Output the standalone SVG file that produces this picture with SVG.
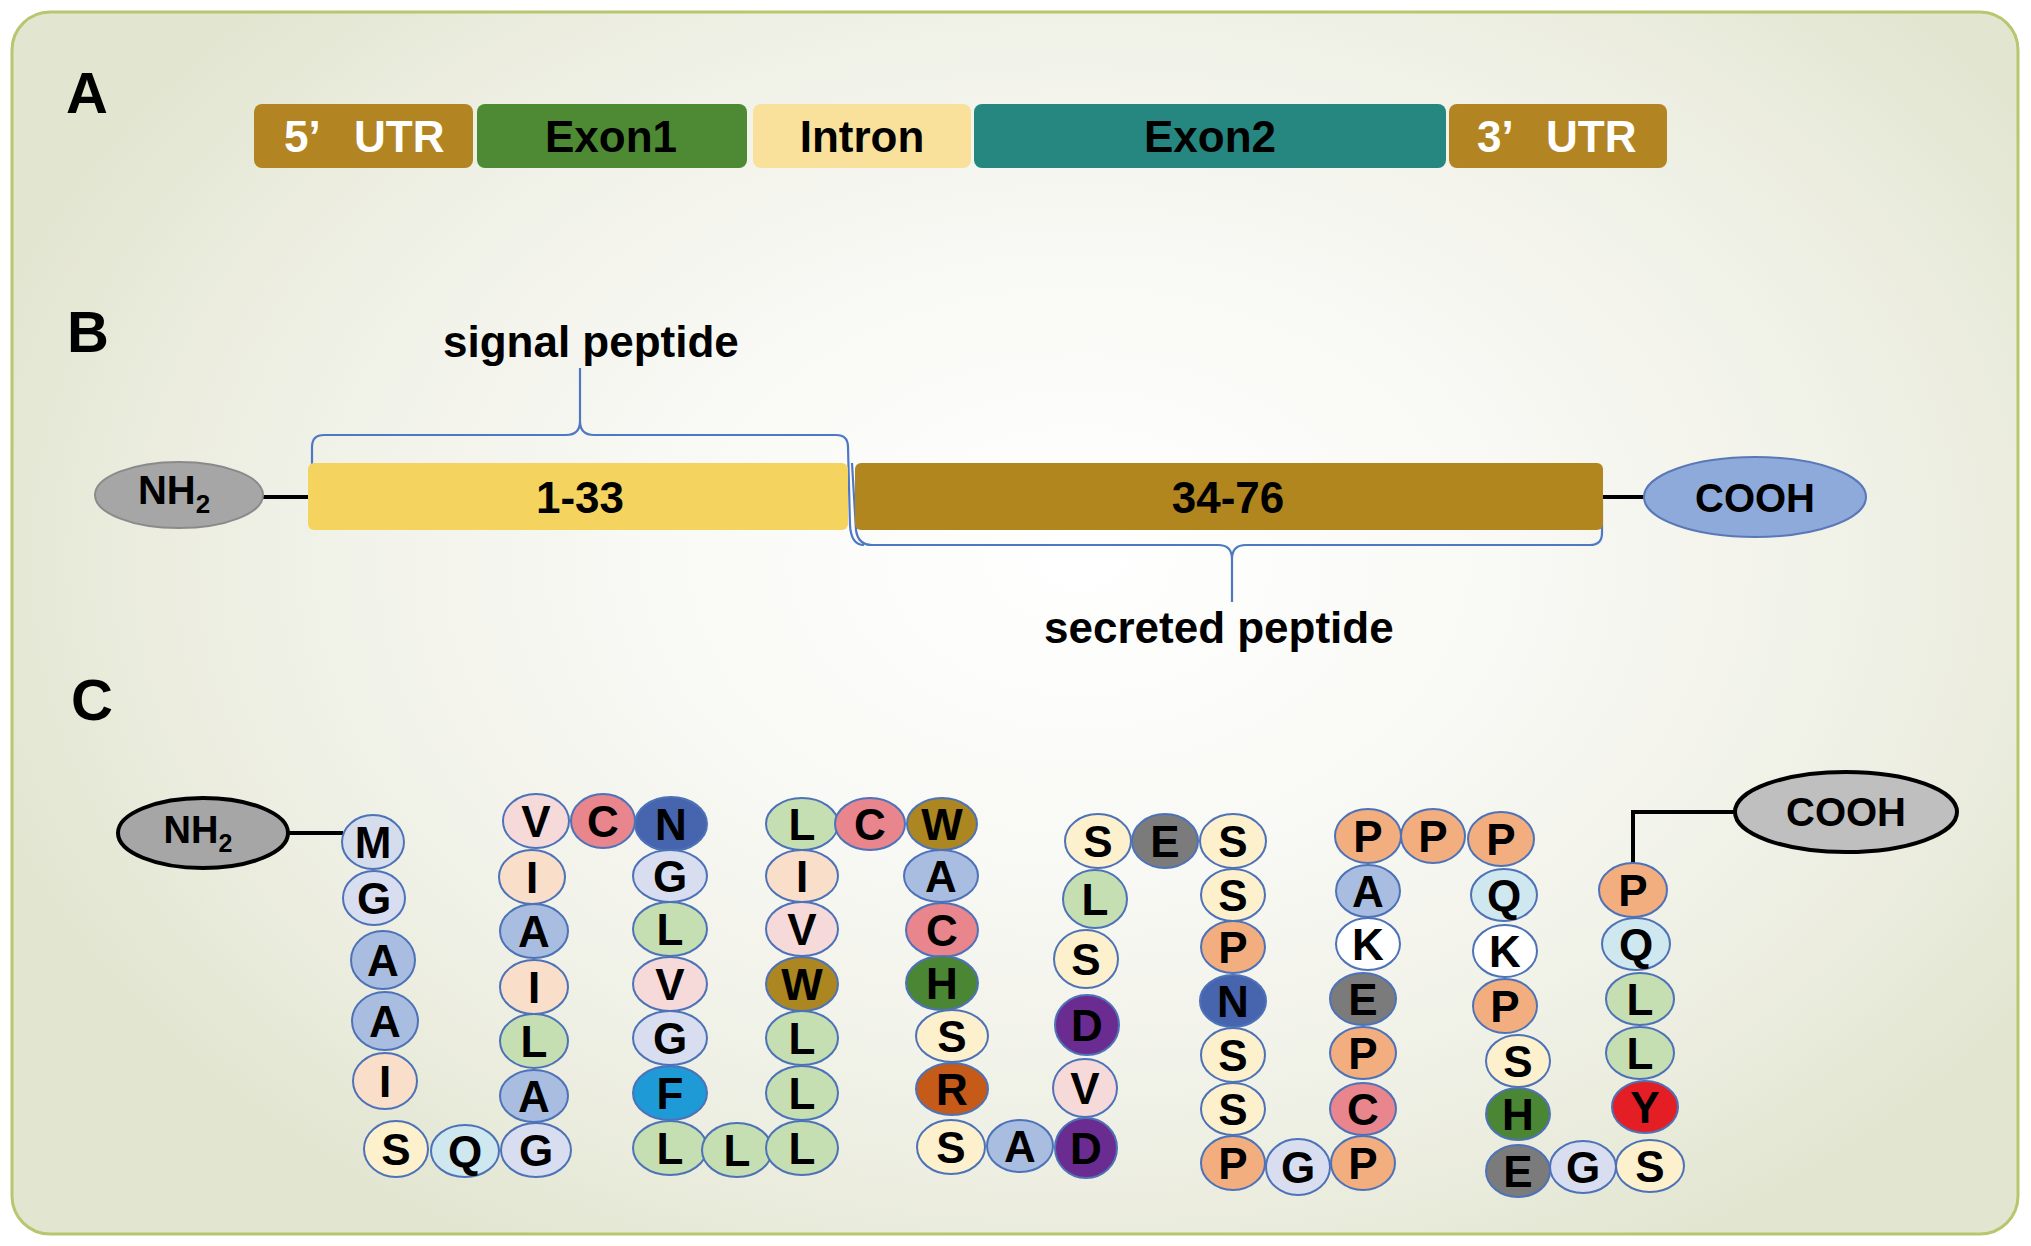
<svg xmlns="http://www.w3.org/2000/svg" width="2031" height="1246" viewBox="0 0 2031 1246">
<defs>
<radialGradient id="bg" gradientUnits="userSpaceOnUse" cx="1080" cy="560" r="1150" gradientTransform="translate(1080 560) scale(1 0.7) translate(-1080 -560)">
<stop offset="0" stop-color="#ffffff"/>
<stop offset="0.4" stop-color="#f8f8f4"/>
<stop offset="0.75" stop-color="#eeefe3"/>
<stop offset="1" stop-color="#e2e5d0"/>
</radialGradient>
<style>
text{font-family:"Liberation Sans",Arial,sans-serif;font-weight:bold;fill:#000}
.panel{font-size:58px}
.t44{font-size:44px}
.mid{text-anchor:middle}
.wht{fill:#fff}
.aa ellipse{stroke:#4d72b8;stroke-width:2}
.aa text{font-size:44px;text-anchor:middle}
.brace{fill:none;stroke:#4f78c4;stroke-width:2.2}
.link{fill:none;stroke:#000;stroke-width:4}
.M{fill:#d5dcec}.G{fill:#d8def0}.A{fill:#a8bde0}.I{fill:#f9dfca}.S{fill:#fdf0cd}.Q{fill:#cfe7ef}
.L{fill:#c5dfb3}.V{fill:#f6dada}.C{fill:#e8858d}.N{fill:#4764ae}.F{fill:#1e9ad7}.W{fill:#ab8621}
.H{fill:#4a8633}.R{fill:#c55a19}.D{fill:#6a2c90}.E{fill:#7b7b7b}.P{fill:#f3ae80}.K{fill:#ffffff}.Y{fill:#e41e25}
</style>
</defs>
<rect x="0" y="0" width="2031" height="1246" fill="#ffffff"/>
<rect id="frame" x="12" y="12" width="2006" height="1222" rx="38" ry="38" fill="url(#bg)" stroke="#b9c56f" stroke-width="3"/>

<g id="panel-labels">
<text class="panel" x="66" y="113">A</text>
<text class="panel" x="67" y="352">B</text>
<text class="panel" x="71" y="720">C</text>
</g>

<!-- Panel A -->
<g id="gene">
<g id="utr5"><rect x="254" y="104" width="219" height="64" rx="8" fill="#b38522"/>
<text class="t44 wht"><tspan x="284" y="152">5’ </tspan><tspan x="354" y="152">UTR</tspan></text></g>
<g id="exon1"><rect x="477" y="104" width="270" height="64" rx="8" fill="#4e8a33"/>
<text class="t44 mid" x="611" y="152">Exon1</text></g>
<g id="intron"><rect x="753" y="104" width="218" height="64" rx="8" fill="#f9e19b"/>
<text class="t44 mid" x="862" y="152">Intron</text></g>
<g id="exon2"><rect x="974" y="104" width="472" height="64" rx="8" fill="#25877f"/>
<text class="t44 mid" x="1210" y="152">Exon2</text></g>
<g id="utr3"><rect x="1449" y="104" width="218" height="64" rx="8" fill="#b38522"/>
<text class="t44 wht"><tspan x="1477" y="152">3’ </tspan><tspan x="1546" y="152">UTR</tspan></text></g>
</g>

<!-- Panel B -->
<g id="braces">
<path class="brace" d="M312,495 L312,447 Q312,435 324,435 L566,435 Q580,435 580,421 L580,368 M580,421 Q580,435 594,435 L836,435 Q848,435 848,447 L850,525 Q851,545 864,545"/>
<path class="brace" d="M852,463 L856,530 Q858,545 872,545 L1218,545 Q1232,545 1232,559 L1232,602 M1232,559 Q1232,545 1246,545 L1590,545 Q1602,545 1602,533 L1602,500"/>
</g>
<g id="connectors-b">
<line class="link" x1="262" y1="497" x2="310" y2="497" stroke-width="5"/>
<line class="link" x1="1600" y1="497" x2="1646" y2="497" stroke-width="5"/>
</g>
<g id="nh2-b"><ellipse cx="179" cy="495" rx="84" ry="33" fill="#a6a6a6" stroke="#8a8a8a" stroke-width="2"/>
<text x="174" y="504" class="mid" style="font-size:40px">NH<tspan style="font-size:26px" dy="9">2</tspan></text></g>
<g id="sig"><rect x="308" y="463" width="540" height="67" rx="6" fill="#f4d35f"/>
<text class="t44 mid" x="580" y="513">1-33</text></g>
<g id="mature"><rect x="855" y="463" width="748" height="67" rx="6" fill="#b1861f"/>
<text class="t44 mid" x="1228" y="513">34-76</text></g>
<g id="cooh-b"><ellipse cx="1755" cy="497" rx="111" ry="40" fill="#8eaadb" stroke="#5a78b8" stroke-width="2"/>
<text class="mid" x="1755" y="512" style="font-size:40px">COOH</text></g>
<text class="t44" x="443" y="357">signal peptide</text>
<text class="t44" x="1044" y="643">secreted peptide</text>

<!-- Panel C -->
<g id="connectors-c">
<line class="link" x1="288" y1="833" x2="343" y2="833" stroke-width="3.5"/>
<polyline class="link" points="1633,864 1633,812 1736,812" stroke-width="3.5"/>
</g>
<g id="nh2-c"><ellipse cx="203" cy="833" rx="85" ry="35" fill="#a6a6a6" stroke="#000" stroke-width="4"/>
<text x="198" y="843" class="mid" style="font-size:38px">NH<tspan style="font-size:25px" dy="9">2</tspan></text></g>
<g id="cooh-c"><ellipse cx="1846" cy="812" rx="111" ry="40" fill="#bfbfbf" stroke="#000" stroke-width="4"/>
<text class="mid" x="1846" y="826" style="font-size:40px">COOH</text></g>

<g id="peptide" class="aa">
<g id="aa1" transform="translate(373,842)"><ellipse rx="31" ry="27" class="M"/><text y="16">M</text></g>
<g id="aa2" transform="translate(374,898)"><ellipse rx="31" ry="27" class="G"/><text y="16">G</text></g>
<g id="aa3" transform="translate(383,960)"><ellipse rx="32" ry="29" class="A"/><text y="16">A</text></g>
<g id="aa4" transform="translate(385,1021)"><ellipse rx="33" ry="29" class="A"/><text y="16">A</text></g>
<g id="aa5" transform="translate(385,1081)"><ellipse rx="32" ry="28" class="I"/><text y="16">I</text></g>
<g id="aa6" transform="translate(396,1149)"><ellipse rx="32" ry="28" class="S"/><text y="16">S</text></g>
<g id="aa7" transform="translate(465,1151)"><ellipse rx="34" ry="26" class="Q"/><text y="16">Q</text></g>
<g id="aa8" transform="translate(536,1150)"><ellipse rx="35" ry="27" class="G"/><text y="16">G</text></g>
<g id="aa9" transform="translate(534,1096)"><ellipse rx="34" ry="26" class="A"/><text y="16">A</text></g>
<g id="aa10" transform="translate(534,1041)"><ellipse rx="34" ry="27" class="L"/><text y="16">L</text></g>
<g id="aa11" transform="translate(534,987)"><ellipse rx="34" ry="27" class="I"/><text y="16">I</text></g>
<g id="aa12" transform="translate(534,931)"><ellipse rx="34" ry="27" class="A"/><text y="16">A</text></g>
<g id="aa13" transform="translate(532,877)"><ellipse rx="33" ry="27" class="I"/><text y="16">I</text></g>
<g id="aa14" transform="translate(536,821)"><ellipse rx="33" ry="27" class="V"/><text y="16">V</text></g>
<g id="aa15" transform="translate(603,821)"><ellipse rx="32" ry="27" class="C"/><text y="16">C</text></g>
<g id="aa16" transform="translate(671,824)"><ellipse rx="36" ry="27" class="N"/><text y="16">N</text></g>
<g id="aa17" transform="translate(670,876)"><ellipse rx="37" ry="26" class="G"/><text y="16">G</text></g>
<g id="aa18" transform="translate(670,929)"><ellipse rx="37" ry="27" class="L"/><text y="16">L</text></g>
<g id="aa19" transform="translate(670,984)"><ellipse rx="37" ry="27" class="V"/><text y="16">V</text></g>
<g id="aa20" transform="translate(670,1038)"><ellipse rx="37" ry="27" class="G"/><text y="16">G</text></g>
<g id="aa21" transform="translate(670,1093)"><ellipse rx="37" ry="27" class="F"/><text y="16">F</text></g>
<g id="aa22" transform="translate(670,1148)"><ellipse rx="37" ry="27" class="L"/><text y="16">L</text></g>
<g id="aa23" transform="translate(737,1150)"><ellipse rx="35" ry="27" class="L"/><text y="16">L</text></g>
<g id="aa24" transform="translate(802,1148)"><ellipse rx="36" ry="27" class="L"/><text y="16">L</text></g>
<g id="aa25" transform="translate(802,1093)"><ellipse rx="36" ry="27" class="L"/><text y="16">L</text></g>
<g id="aa26" transform="translate(802,1038)"><ellipse rx="36" ry="27" class="L"/><text y="16">L</text></g>
<g id="aa27" transform="translate(802,984)"><ellipse rx="36" ry="27" class="W"/><text y="16">W</text></g>
<g id="aa28" transform="translate(802,929)"><ellipse rx="36" ry="27" class="V"/><text y="16">V</text></g>
<g id="aa29" transform="translate(802,876)"><ellipse rx="36" ry="26" class="I"/><text y="16">I</text></g>
<g id="aa30" transform="translate(802,824)"><ellipse rx="36" ry="26" class="L"/><text y="16">L</text></g>
<g id="aa31" transform="translate(870,824)"><ellipse rx="35" ry="26" class="C"/><text y="16">C</text></g>
<g id="aa32" transform="translate(942,824)"><ellipse rx="35" ry="26" class="W"/><text y="16">W</text></g>
<g id="aa33" transform="translate(941,876)"><ellipse rx="37" ry="26" class="A"/><text y="16">A</text></g>
<g id="aa34" transform="translate(942,930)"><ellipse rx="36" ry="27" class="C"/><text y="16">C</text></g>
<g id="aa35" transform="translate(942,983)"><ellipse rx="36" ry="27" class="H"/><text y="16">H</text></g>
<g id="aa36" transform="translate(952,1036)"><ellipse rx="36" ry="26" class="S"/><text y="16">S</text></g>
<g id="aa37" transform="translate(952,1089)"><ellipse rx="36" ry="26" class="R"/><text y="16">R</text></g>
<g id="aa38" transform="translate(951,1147)"><ellipse rx="34" ry="27" class="S"/><text y="16">S</text></g>
<g id="aa39" transform="translate(1020,1146)"><ellipse rx="33" ry="26" class="A"/><text y="16">A</text></g>
<g id="aa40" transform="translate(1086,1148)"><ellipse rx="31" ry="30" class="D"/><text y="16">D</text></g>
<g id="aa41" transform="translate(1085,1088)"><ellipse rx="32" ry="29" class="V"/><text y="16">V</text></g>
<g id="aa42" transform="translate(1087,1025)"><ellipse rx="32" ry="30" class="D"/><text y="16">D</text></g>
<g id="aa43" transform="translate(1086,959)"><ellipse rx="32" ry="29" class="S"/><text y="16">S</text></g>
<g id="aa44" transform="translate(1095,899)"><ellipse rx="32" ry="29" class="L"/><text y="16">L</text></g>
<g id="aa45" transform="translate(1098,841)"><ellipse rx="33" ry="27" class="S"/><text y="16">S</text></g>
<g id="aa46" transform="translate(1165,841)"><ellipse rx="33" ry="27" class="E"/><text y="16">E</text></g>
<g id="aa47" transform="translate(1233,841)"><ellipse rx="33" ry="27" class="S"/><text y="16">S</text></g>
<g id="aa48" transform="translate(1233,895)"><ellipse rx="32" ry="26" class="S"/><text y="16">S</text></g>
<g id="aa49" transform="translate(1233,947)"><ellipse rx="32" ry="26" class="P"/><text y="16">P</text></g>
<g id="aa50" transform="translate(1233,1001)"><ellipse rx="33" ry="26" class="N"/><text y="16">N</text></g>
<g id="aa51" transform="translate(1233,1055)"><ellipse rx="32" ry="27" class="S"/><text y="16">S</text></g>
<g id="aa52" transform="translate(1233,1109)"><ellipse rx="32" ry="26" class="S"/><text y="16">S</text></g>
<g id="aa53" transform="translate(1233,1163)"><ellipse rx="32" ry="27" class="P"/><text y="16">P</text></g>
<g id="aa54" transform="translate(1298,1167)"><ellipse rx="32" ry="28" class="G"/><text y="16">G</text></g>
<g id="aa55" transform="translate(1363,1163)"><ellipse rx="32" ry="27" class="P"/><text y="16">P</text></g>
<g id="aa56" transform="translate(1363,1109)"><ellipse rx="33" ry="26" class="C"/><text y="16">C</text></g>
<g id="aa57" transform="translate(1363,1053)"><ellipse rx="33" ry="26" class="P"/><text y="16">P</text></g>
<g id="aa58" transform="translate(1363,999)"><ellipse rx="33" ry="26" class="E"/><text y="16">E</text></g>
<g id="aa59" transform="translate(1368,944)"><ellipse rx="32" ry="26" class="K"/><text y="16">K</text></g>
<g id="aa60" transform="translate(1368,891)"><ellipse rx="32" ry="26" class="A"/><text y="16">A</text></g>
<g id="aa61" transform="translate(1368,836)"><ellipse rx="33" ry="27" class="P"/><text y="16">P</text></g>
<g id="aa62" transform="translate(1433,836)"><ellipse rx="32" ry="27" class="P"/><text y="16">P</text></g>
<g id="aa63" transform="translate(1501,839)"><ellipse rx="33" ry="27" class="P"/><text y="16">P</text></g>
<g id="aa64" transform="translate(1504,895)"><ellipse rx="33" ry="26" class="Q"/><text y="16">Q</text></g>
<g id="aa65" transform="translate(1505,951)"><ellipse rx="32" ry="26" class="K"/><text y="16">K</text></g>
<g id="aa66" transform="translate(1505,1006)"><ellipse rx="32" ry="27" class="P"/><text y="16">P</text></g>
<g id="aa67" transform="translate(1518,1061)"><ellipse rx="32" ry="26" class="S"/><text y="16">S</text></g>
<g id="aa68" transform="translate(1518,1114)"><ellipse rx="32" ry="26" class="H"/><text y="16">H</text></g>
<g id="aa69" transform="translate(1518,1171)"><ellipse rx="32" ry="26" class="E"/><text y="16">E</text></g>
<g id="aa70" transform="translate(1583,1167)"><ellipse rx="33" ry="26" class="G"/><text y="16">G</text></g>
<g id="aa71" transform="translate(1650,1166)"><ellipse rx="34" ry="26" class="S"/><text y="16">S</text></g>
<g id="aa72" transform="translate(1645,1107)"><ellipse rx="33" ry="26" class="Y"/><text y="16">Y</text></g>
<g id="aa73" transform="translate(1640,1053)"><ellipse rx="34" ry="26" class="L"/><text y="16">L</text></g>
<g id="aa74" transform="translate(1640,999)"><ellipse rx="34" ry="26" class="L"/><text y="16">L</text></g>
<g id="aa75" transform="translate(1636,944)"><ellipse rx="34" ry="26" class="Q"/><text y="16">Q</text></g>
<g id="aa76" transform="translate(1633,890)"><ellipse rx="34" ry="27" class="P"/><text y="16">P</text></g>
</g>
</svg>
